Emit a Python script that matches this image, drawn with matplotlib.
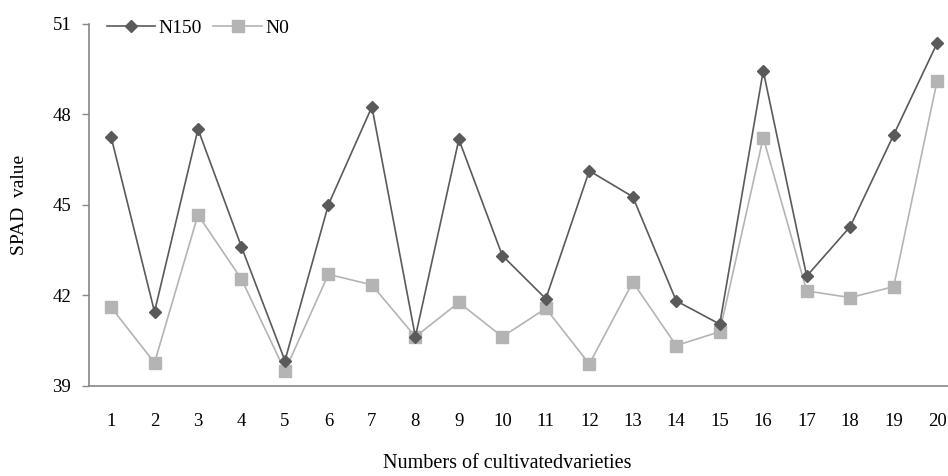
import matplotlib
matplotlib.use("Agg")
import matplotlib.pyplot as plt

varieties = list(range(1, 21))
n150 = [47.25, 41.45, 47.5, 43.6, 39.83, 45.0, 48.24, 40.62, 47.16, 43.31,
        41.88, 46.12, 45.26, 41.81, 41.04, 49.43, 42.63, 44.27, 47.31, 50.35]
n0 = [41.6, 39.76, 44.66, 42.53, 39.49, 42.69, 42.34, 40.62, 41.76, 40.62,
      41.56, 39.72, 42.43, 40.33, 40.79, 47.22, 42.14, 41.92, 42.28, 49.1]
yticks = [39, 42, 45, 48, 51]

serif = "Liberation Serif"

fig = plt.figure(figsize=(9.48, 4.76), dpi=100)
ax = fig.add_axes([89.3 / 948, 1 - 385.7 / 476, (948 - 89.3) / 948, (385.7 - 23.5) / 476])

c150 = "#5a5a5a"
c0 = "#b4b4b4"
ax.plot(varieties, n0, color=c0, lw=1.2, marker="s", ms=8.5, mec=c0, mfc=c0, label="N0", zorder=2)
ax.plot(varieties, n150, color=c150, lw=1.2, marker="D", ms=6.5, mec=c150, mfc=c150, label="N150", zorder=3)

ax.set_xlim(0.5, 20.25)
ax.set_ylim(39, 51)
ax.set_yticks(yticks)
ax.set_yticklabels([str(t) for t in yticks], fontfamily=serif, fontsize=13.5)
ax.set_xticks(varieties)
ax.set_xticklabels([str(v) for v in varieties], fontfamily=serif, fontsize=13.5)
ax.tick_params(axis="x", length=0, pad=20)
ax.tick_params(axis="y", length=5, width=1, color="#888888", direction="out", pad=8)

for s in ["top", "right"]:
    ax.spines[s].set_visible(False)
for s in ["left", "bottom"]:
    ax.spines[s].set_color("#888888")
    ax.spines[s].set_linewidth(1.2)

fig.text(20 / 948, 1 - 205 / 476, "SPAD  value", fontfamily=serif, fontsize=14,
         rotation=90, ha="center", va="center")
fig.text(507 / 948, 1 - 463 / 476, "Numbers of cultivatedvarieties", fontfamily=serif,
         fontsize=14.5, ha="center", va="center")

h, l = ax.get_legend_handles_labels()
leg = ax.legend(h[::-1], l[::-1], loc="upper left", bbox_to_anchor=(0.0, 1.06), ncol=2, frameon=False,
                prop={"family": serif, "size": 14}, handlelength=2.5, handletextpad=0.15,
                columnspacing=0.6)

fig.savefig("out.png", dpi=100)
